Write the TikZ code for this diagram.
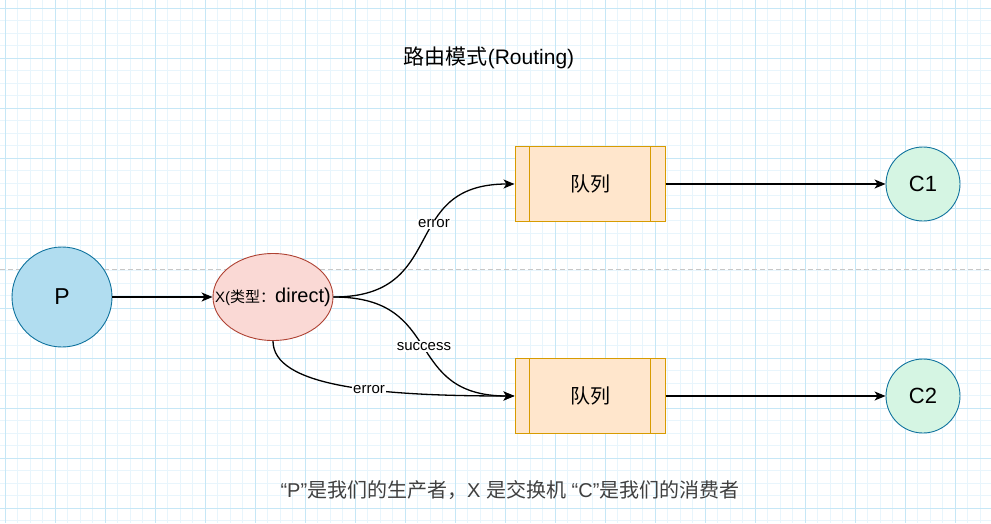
\documentclass[tikz,border=0pt]{standalone}
\usepackage{fontspec}
\setmainfont{Liberation Sans}
\newfontfamily\cjk{Noto Sans CJK SC}
\usetikzlibrary{shapes,arrows.meta}

\definecolor{pfill}{HTML}{B1DDF0}
\definecolor{bstroke}{HTML}{10739E}
\definecolor{xfill}{HTML}{FAD9D5}
\definecolor{xstroke}{HTML}{AE4132}
\definecolor{qfill}{HTML}{FFE6CC}
\definecolor{qstroke}{HTML}{D79B00}
\definecolor{cfill}{HTML}{D5F5E3}
\definecolor{gridminor}{HTML}{E8F5FC}
\definecolor{gridmajor}{HTML}{C6E7F6}

\tikzstyle{prod} = [draw=bstroke, fill=pfill, circle, minimum size=100pt,
    inner sep=0pt, line width=0.9pt, font=\fontsize{23}{26}\selectfont]
\tikzstyle{cons} = [draw=bstroke, fill=cfill, circle, minimum size=74pt,
    inner sep=0pt, line width=0.9pt, font=\fontsize{22}{25}\selectfont]
\tikzstyle{exch} = [draw=xstroke, fill=xfill, ellipse, minimum width=120pt,
    minimum height=87pt, inner sep=0pt, line width=0.9pt]
\tikzstyle{queue} = [draw=qstroke, fill=qfill, rectangle, minimum width=150pt,
    minimum height=75pt, line width=1pt, font=\cjk\fontsize{20}{22}\selectfont]
\tikzstyle{line} = [draw, line width=1.3pt, -{Stealth[length=11pt,width=9pt,inset=3pt]}]
\tikzstyle{elabel} = [fill=white, inner sep=1pt, font=\fontsize{15}{17}\selectfont]

\begin{document}
\begin{tikzpicture}[x=1pt,y=-1pt]
\useasboundingbox (0,0) rectangle (991,523);
\fill[white] (0,0) rectangle (991,523);

% background grid
\foreach \x in {5,17.5,...,991} \draw[gridminor, line width=1pt] (\x,0) -- (\x,523);
\foreach \y in {8,20.5,...,523} \draw[gridminor, line width=1pt] (0,\y) -- (991,\y);
\foreach \x in {5,55,...,991} \draw[gridmajor, line width=1pt] (\x,0) -- (\x,523);
\foreach \y in {8,58,...,523} \draw[gridmajor, line width=1pt] (0,\y) -- (991,\y);

\coordinate (L) at (0,269);
\coordinate (R) at (991,269);
\draw[black!22, line width=1pt, dash pattern=on5pt off3pt] (L) -- (R);

\node[] (title) at (489,58) {\fontsize{21}{24}\selectfont{\cjk 路由模式}(Routing)};

\node[prod, name=P] at (62,297) {P};
\node[exch, name=X] at (273,297) {\makebox[0pt]{\fontsize{15}{17}\selectfont X({\cjk 类型：}\fontsize{20}{22}\selectfont direct)}};

\node[queue, name=q1] at (590,184) {队列};
\node[queue, name=q2] at (590,396) {队列};
\draw[qstroke, line width=1pt] ([xshift=15pt]q1.north west) -- ([xshift=15pt]q1.south west);
\draw[qstroke, line width=1pt] ([xshift=-15pt]q1.north east) -- ([xshift=-15pt]q1.south east);
\draw[qstroke, line width=1pt] ([xshift=15pt]q2.north west) -- ([xshift=15pt]q2.south west);
\draw[qstroke, line width=1pt] ([xshift=-15pt]q2.north east) -- ([xshift=-15pt]q2.south east);

\node[cons, name=c1] at (923,184) {C1};
\node[cons, name=c2] at (923,396) {C2};

\draw[line] (P) -- (X);
\draw[line] (X.east) to[out=0,in=180,looseness=1.4] node[elabel, pos=0.6] {error} (q1.west);
\draw[line] (X.east) to[out=0,in=180,looseness=1.4] node[elabel, pos=0.5] {success} (q2.west);
\draw[line] (X.south) .. controls +(0,45) and +(-140,0) .. node[elabel, pos=0.6] {error} (q2.west);
\draw[line] (q1) -- (c1);
\draw[line] (q2) -- (c2);

\node[text=black!75] (note) at (510,490) {\fontsize{20}{23}\selectfont “P”{\cjk 是我们的生产者，}X {\cjk 是交换机} “C”{\cjk 是我们的消费者}};

\end{tikzpicture}
\end{document}
